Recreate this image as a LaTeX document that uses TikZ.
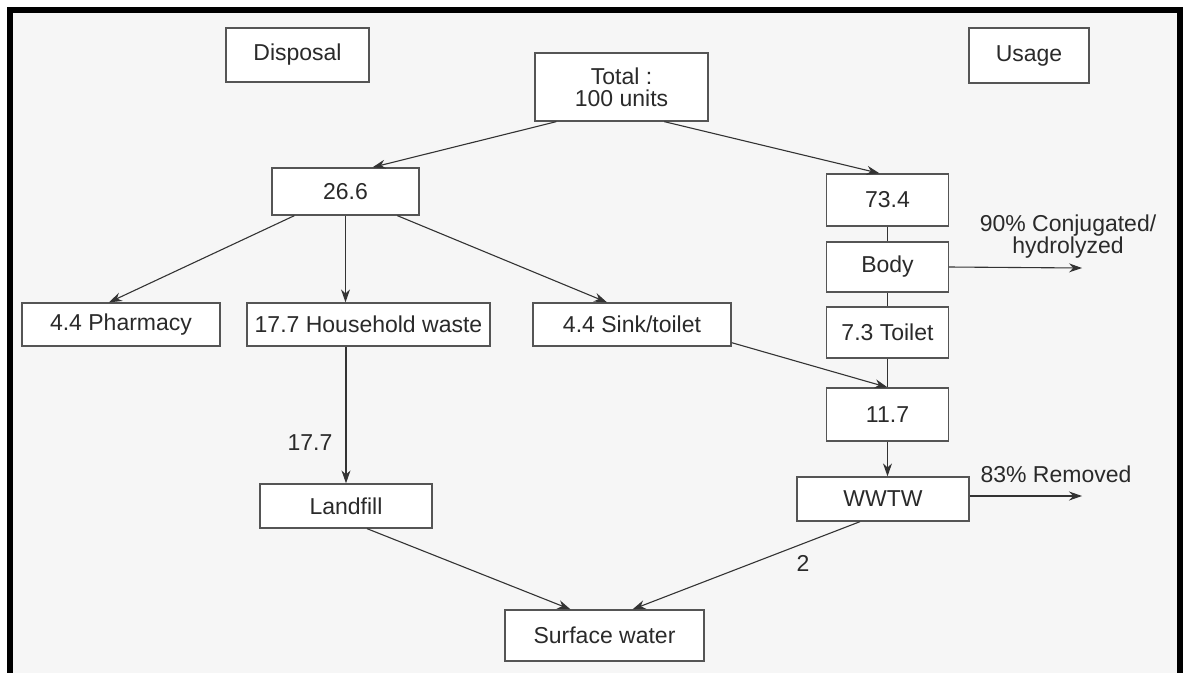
\documentclass[tikz,border=0pt]{standalone}
\usepackage{fontspec}
\setmainfont{Liberation Sans}
\usetikzlibrary{calc,arrows.meta}
\definecolor{bg}{HTML}{F6F6F6}
\definecolor{boxc}{HTML}{555555}
\definecolor{linec}{HTML}{333333}
\definecolor{txt}{HTML}{2A2A2A}
\begin{document}
\begin{tikzpicture}[x=1pt,y=-1pt,
  box/.style={draw=boxc, line width=1.3pt, fill=white, text=txt, inner sep=0pt,
    font=\fontsize{23}{22}\selectfont, align=center},
  arr/.style={draw=linec, line width=1.1pt, -{Stealth[length=13pt,width=9pt]}},
  ln/.style={draw=linec, line width=1.1pt},
  lab/.style={text=txt, font=\fontsize{23}{22}\selectfont, inner sep=0pt, align=center}]
\useasboundingbox (0,0) rectangle (1183,673);
\fill[white] (0,0) rectangle (1183,673);
\fill[black] (7,7) rectangle (1183,673);
\fill[bg] (13,13) rectangle (1177,673);

% nodes
\node[box, minimum width=143pt, minimum height=54pt] (disposal) at (297.5,55) {Disposal};
\node[box, minimum width=120pt, minimum height=55pt] (usage) at (1029,55.5) {Usage};
\node[box, minimum width=173pt, minimum height=68pt] (total) at (621.5,87) {Total :\\100 units};
\node[box, minimum width=147pt, minimum height=47pt] (n266) at (345.5,191.5) {26.6};
\node[box, minimum width=122pt, minimum height=52pt] (n734) at (887.5,200) {73.4};
\node[box, minimum width=122pt, minimum height=50pt] (body) at (887.5,267) {Body};
\node[box, minimum width=122pt, minimum height=51pt] (toilet) at (887.5,332.5) {7.3 Toilet};
\node[box, minimum width=122pt, minimum height=53pt] (n117) at (887.5,414.5) {11.7};
\node[box, minimum width=172pt, minimum height=44pt] (wwtw) at (883,499) {WWTW};
\node[box, minimum width=198pt, minimum height=43pt] (pharmacy) at (121,324.5) {4.4 Pharmacy};
\node[box, minimum width=243pt, minimum height=43pt] (household) at (368.5,324.5) {17.7 Household waste};
\node[box, minimum width=198pt, minimum height=43pt] (sink) at (632,324.5) {4.4 Sink/toilet};
\node[box, minimum width=172pt, minimum height=44pt] (landfill) at (346,506) {Landfill};
\node[box, minimum width=199pt, minimum height=51pt] (surface) at (604.5,635.5) {Surface water};

% labels
\node[lab] (l177) at (310,443) {17.7};
\node[lab] (l2) at (803,563) {2};
\node[lab] (lconj) at (1068,237) {90\% Conjugated/\\hydrolyzed};
\node[lab] (lrem) at (1056,474) {83\% Removed};
\coordinate (conjend) at (1082,268);
\coordinate (remend) at (1082,496);

% connectors
\draw[arr] ($(total.south west)+(22,0)$) -- ($(n266.north)+(27,0)$);
\draw[arr] ($(total.south west)+(130,0)$) -- ($(n734.north)+(-8,0)$);
\draw[arr] ($(n266.south west)+(23,0)$) -- ($(pharmacy.north)+(-12,0)$);
\draw[arr] (n266.south) -- (n266.south |- household.north);
\draw[arr] ($(n266.south west)+(126,0)$) -- ($(sink.north)+(-25,0)$);
\draw[arr] (landfill.north |- household.south) -- (landfill.north);
\draw[arr] ($(landfill.south)+(21,0)$) -- ($(surface.north)+(-34,0)$);
\draw[arr] ($(wwtw.south)+(-23,0)$) -- ($(surface.north)+(28,0)$);
\draw[arr] ($(sink.south east)+(0,-4)$) -- (n117.north);
\draw[ln] (n734.south) -- (body.north);
\draw[ln] (body.south) -- (toilet.north);
\draw[ln] (toilet.south) -- (n117.north);
\draw[arr] (n117.south) -- (n117.south |- wwtw.north);
\draw[arr] (body.east) -- (conjend);
\draw[arr] ($(wwtw.east)+(0,-3)$) -- (remend);
\end{tikzpicture}
\end{document}
